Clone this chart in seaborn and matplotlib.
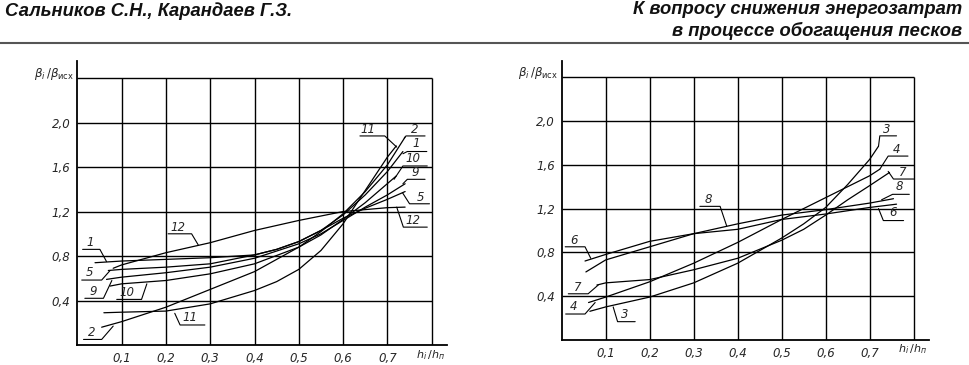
import matplotlib
matplotlib.use("Agg")
import pandas as pd
import seaborn as sns
import matplotlib.pyplot as plt

sns.set_theme(style="white")
plt.rcParams['font.family'] = ['Liberation Sans', 'DejaVu Sans']

# --- left chart curves (x = h_i/h_п, y = β_i/β_исх) ---
left_curves = {
    "1":  ([0.04, 0.1, 0.2, 0.3, 0.4, 0.45, 0.5, 0.55, 0.6, 0.65, 0.7, 0.735],
           [0.74, 0.755, 0.77, 0.785, 0.81, 0.86, 0.93, 1.03, 1.17, 1.35, 1.56, 1.74]),
    "2":  ([0.055, 0.1, 0.2, 0.3, 0.4, 0.5, 0.55, 0.6, 0.65, 0.7, 0.74],
           [0.16, 0.21, 0.34, 0.5, 0.66, 0.88, 1.02, 1.18, 1.38, 1.62, 1.87]),
    "5":  ([0.07, 0.1, 0.2, 0.3, 0.4, 0.45, 0.5, 0.55, 0.6, 0.65, 0.7, 0.74],
           [0.67, 0.68, 0.70, 0.73, 0.81, 0.86, 0.93, 1.03, 1.14, 1.23, 1.31, 1.38]),
    "9":  ([0.066, 0.1, 0.2, 0.3, 0.4, 0.5, 0.55, 0.6, 0.65, 0.7, 0.74],
           [0.59, 0.61, 0.65, 0.70, 0.78, 0.91, 1.0, 1.12, 1.24, 1.35, 1.45]),
    "10": ([0.074, 0.1, 0.2, 0.3, 0.4, 0.5, 0.55, 0.6, 0.65, 0.72],
           [0.53, 0.55, 0.58, 0.64, 0.73, 0.88, 0.99, 1.13, 1.28, 1.52]),
    "11": ([0.06, 0.1, 0.2, 0.3, 0.4, 0.45, 0.5, 0.55, 0.6, 0.65, 0.7, 0.72],
           [0.29, 0.295, 0.305, 0.37, 0.49, 0.57, 0.68, 0.85, 1.09, 1.39, 1.69, 1.79]),
    "12": ([0.081, 0.1, 0.2, 0.3, 0.4, 0.5, 0.6, 0.7, 0.74],
           [0.69, 0.72, 0.83, 0.92, 1.03, 1.12, 1.2, 1.235, 1.24]),
}

# --- right chart curves ---
right_curves = {
    "3": ([0.064, 0.1, 0.2, 0.3, 0.4, 0.5, 0.55, 0.6, 0.65, 0.7, 0.72],
          [0.26, 0.30, 0.39, 0.52, 0.70, 0.93, 1.06, 1.21, 1.42, 1.65, 1.77]),
    "4": ([0.061, 0.1, 0.2, 0.3, 0.4, 0.5, 0.6, 0.7, 0.723],
          [0.34, 0.39, 0.53, 0.70, 0.89, 1.10, 1.30, 1.50, 1.56]),
    "6": ([0.053, 0.1, 0.2, 0.3, 0.4, 0.5, 0.6, 0.7, 0.761],
          [0.72, 0.78, 0.90, 0.97, 1.01, 1.10, 1.15, 1.21, 1.24]),
    "7": ([0.08, 0.1, 0.2, 0.3, 0.4, 0.5, 0.55, 0.6, 0.65, 0.7, 0.745],
          [0.50, 0.52, 0.55, 0.64, 0.745, 0.91, 1.01, 1.14, 1.28, 1.41, 1.53]),
    "8": ([0.055, 0.1, 0.2, 0.3, 0.4, 0.5, 0.6, 0.7, 0.754],
          [0.62, 0.73, 0.85, 0.97, 1.06, 1.14, 1.19, 1.25, 1.29]),
}

# curve numbers with leader lines: (text x, text y, leader vertices)
left_labels = [
    ("1", 0.029, 0.92, [(0.012, 0.86), (0.051, 0.86), (0.066, 0.75)]),
    ("5", 0.027, 0.65, [(0.010, 0.584), (0.055, 0.584), (0.074, 0.67)]),
    ("9", 0.036, 0.48, [(0.017, 0.42), (0.059, 0.42), (0.078, 0.58)]),
    ("10", 0.111, 0.47, [(0.089, 0.41), (0.145, 0.41), (0.157, 0.55)]),
    ("2", 0.032, 0.11, [(0.014, 0.05), (0.055, 0.05), (0.081, 0.17)]),
    ("11", 0.254, 0.25, [(0.22, 0.285), (0.232, 0.18), (0.288, 0.18)]),
    ("12", 0.228, 1.06, [(0.205, 1.0), (0.258, 1.0), (0.273, 0.90)]),
    ("11", 0.657, 1.94, [(0.638, 1.88), (0.694, 1.88), (0.721, 1.78)]),
    ("2", 0.761, 1.94, [(0.785, 1.88), (0.742, 1.88), (0.738, 1.86)]),
    ("1", 0.766, 1.81, [(0.789, 1.74), (0.745, 1.74), (0.735, 1.72)]),
    ("10", 0.758, 1.68, [(0.79, 1.61), (0.735, 1.61), (0.715, 1.49)]),
    ("9", 0.762, 1.55, [(0.785, 1.49), (0.745, 1.49), (0.735, 1.45)]),
    ("5", 0.775, 1.33, [(0.795, 1.27), (0.75, 1.27), (0.734, 1.37)]),
    ("12", 0.758, 1.12, [(0.721, 1.24), (0.736, 1.06), (0.79, 1.06)]),
]
right_labels = [
    ("6", 0.027, 0.91, [(0.008, 0.85), (0.053, 0.85), (0.066, 0.745)]),
    ("7", 0.036, 0.48, [(0.015, 0.42), (0.060, 0.42), (0.083, 0.50)]),
    ("4", 0.027, 0.30, [(0.009, 0.235), (0.053, 0.235), (0.076, 0.34)]),
    ("3", 0.144, 0.23, [(0.117, 0.30), (0.127, 0.165), (0.167, 0.165)]),
    ("8", 0.333, 1.28, [(0.314, 1.22), (0.36, 1.22), (0.375, 1.04)]),
    ("3", 0.739, 1.92, [(0.761, 1.865), (0.723, 1.865), (0.72, 1.77)]),
    ("4", 0.760, 1.74, [(0.787, 1.68), (0.742, 1.68), (0.723, 1.56)]),
    ("7", 0.775, 1.53, [(0.742, 1.54), (0.754, 1.47), (0.80, 1.47)]),
    ("8", 0.767, 1.40, [(0.79, 1.33), (0.752, 1.33), (0.727, 1.28)]),
    ("6", 0.752, 1.16, [(0.72, 1.20), (0.731, 1.09), (0.777, 1.09)]),
]

x_ticks = [0.1, 0.2, 0.3, 0.4, 0.5, 0.6, 0.7]
x_tick_labels = ["0,1", "0,2", "0,3", "0,4", "0,5", "0,6", "0,7"]
y_ticks = [0.4, 0.8, 1.2, 1.6, 2.0]
y_tick_labels = ["0,4", "0,8", "1,2", "1,6", "2,0"]
grid_x = [0.1, 0.2, 0.3, 0.4, 0.5, 0.6, 0.7, 0.8]
grid_y = [0.4, 0.8, 1.2, 1.6, 2.0, 2.4]

lbl_font = dict(family=['Liberation Sans Narrow', 'DejaVu Sans'], style='italic', size=8.5)


def to_long(curves):
    rows = []
    for name, (xs, ys) in curves.items():
        for i, (x, y) in enumerate(zip(xs, ys)):
            rows.append({"curve": name, "order": i, "h": x, "beta": y})
    return pd.DataFrame(rows)


def draw_chart(ax, curves, labels):
    df = to_long(curves)
    sns.lineplot(data=df, x="h", y="beta", hue="curve", units="curve",
                 estimator=None, sort=False, palette=["black"] * len(curves),
                 linewidth=0.9, legend=False, ax=ax)
    ax.vlines(grid_x, 0, 2.4, color="black", linewidth=1.0)
    ax.hlines(grid_y, 0, 0.8, color="black", linewidth=1.0)
    for text, tx, ty, pts in labels:
        ax.plot([p[0] for p in pts], [p[1] for p in pts], color="black", linewidth=0.8)
        ax.text(tx, ty, text, ha="center", va="center", **lbl_font)
    ax.set_xlim(0, 0.835)
    ax.set_ylim(0, 2.55)
    ax.set_xticks(x_ticks)
    ax.set_xticklabels(x_tick_labels, **lbl_font)
    ax.set_yticks(y_ticks)
    ax.set_yticklabels(y_tick_labels, **lbl_font)
    ax.tick_params(length=0, pad=5)
    ax.set_xlabel("")
    ax.set_ylabel("")
    for s in ["top", "right"]:
        ax.spines[s].set_visible(False)
    for s in ["left", "bottom"]:
        ax.spines[s].set_color("black")
        ax.spines[s].set_linewidth(1.3)
    ax.set_facecolor("white")
    ax.text(-0.008, 2.44, r"$\beta_i\,/\beta_{\mathrm{исх}}$", ha="right", va="center",
            fontsize=8.5, color="#222222")
    ax.text(0.83, -0.025, r"$h_i\,/h_{п}$", ha="right", va="top",
            fontsize=8, style='italic', color="#222222")


fig = plt.figure(figsize=(9.69, 3.65), dpi=100)
fig.patch.set_facecolor("white")

ax_l = fig.add_axes([77.3 / 969, 20 / 365, 0.835 * 443 / 969, 2.55 * 111.2 / 365])
draw_chart(ax_l, left_curves, left_labels)

ax_r = fig.add_axes([561.7 / 969, 25.3 / 365, 0.835 * 440 / 969, 2.55 * 109.3 / 365])
draw_chart(ax_r, right_curves, right_labels)

# page header
hdr = dict(fontsize=13.2, fontweight="bold", style="italic", color="#111111")
fig.text(5 / 969, 1 - 11 / 365, "Сальников С.Н., Карандаев Г.З.", ha="left", va="center", **hdr)
fig.text(962 / 969, 1 - 10 / 365, "К вопросу снижения энергозатрат", ha="right", va="center", **hdr)
fig.text(962 / 969, 1 - 31 / 365, "в процессе обогащения песков", ha="right", va="center", **hdr)
fig.add_artist(plt.Line2D([0, 1], [1 - 42.5 / 365, 1 - 42.5 / 365], color="#555555", linewidth=1.5))

fig.savefig("out.png", dpi=100, facecolor="white")
